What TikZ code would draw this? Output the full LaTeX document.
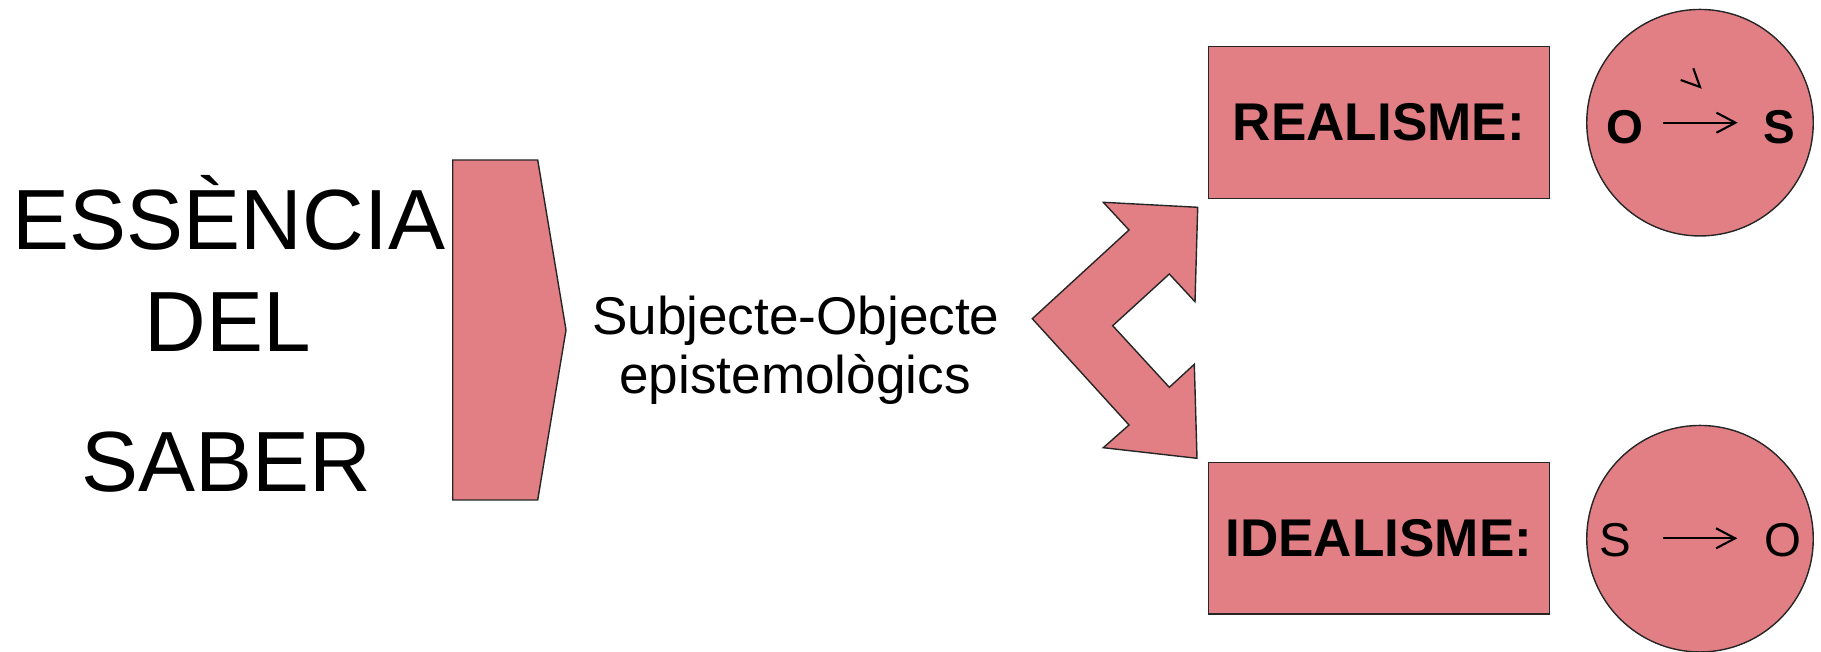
\documentclass[tikz,border=0pt]{standalone}
\usepackage{fontspec}
\setmainfont{Liberation Sans}
\usetikzlibrary{arrows.meta}
\definecolor{rosefill}{RGB}{226,127,133}
\begin{document}
\begin{tikzpicture}[x=0.01cm,y=-0.01cm,
  shapefill/.style={fill=rosefill,draw=black!85,line width=0.4pt},
  bigtxt/.style={inner sep=0,anchor=base,font=\fontsize{24.3}{29}\selectfont},
  midtxt/.style={inner sep=0,anchor=base,font=\fontsize{15.1}{18}\selectfont},
  boxlbl/.style={shapefill,rectangle,minimum width=3.41cm,minimum height=1.516cm,inner sep=0,font=\fontsize{15.1}{18}\selectfont\bfseries},
  circ/.style={shapefill,circle,minimum size=2.264cm,inner sep=0},
  ctxt/.style={inner sep=0,anchor=base,font=\fontsize{13.5}{16}\selectfont},
  relarrow/.style={line width=0.6pt,-{Straight Barb[length=5.4pt,width=5.7pt]}}
]
\useasboundingbox (0,0) rectangle (1821,652);

% left title
\node[bigtxt] (t1) at (229,249.3) {ESSÈNCIA};
\node[bigtxt] (t2) at (227.5,351.7) {DEL};
\node[bigtxt] (t3) at (226,491.7) {SABER};

% chevron
\draw[shapefill] (452.7,160) -- (537.7,160) -- (566,330) -- (537.7,500) -- (452.7,500) -- cycle;

% middle text
\node[midtxt] (m1) at (795.8,335) {Subjecte-Objecte};
\node[midtxt] (m2) at (795,393.3) {epistemològics};

% double arrow
\draw[shapefill] (1103.3,202.3) -- (1197.7,207.3) -- (1195,301.7) -- (1169.3,274)
  -- (1112.7,325.7) -- (1169.3,387.3) -- (1194.3,364.3) -- (1197,458.3)
  -- (1103.3,447.7) -- (1129,425) -- (1032.3,318.7) -- (1129,230) -- cycle;

% boxes
\node[boxlbl] (real) at (1378.8,122.5) {REALISME:};
\node[boxlbl] (ideal) at (1378.8,538.3) {IDEALISME:};

% circles
\node[circ] (c1) at (1700,122.7) {};
\node[circ] (c2) at (1700,538.7) {};

% top circle contents
\node[ctxt,font=\fontsize{13.5}{16}\selectfont\bfseries] (o1) at (1625,143.3) {O};
\node[ctxt,font=\fontsize{13.5}{16}\selectfont\bfseries] (s1) at (1779.2,143.3) {S};
\coordinate (a1s) at (1662.7,122.7);
\coordinate (a1e) at (1737.7,122.7);
\draw[relarrow] (a1s) -- (a1e);
\draw[line width=0.6pt] (1693.3,68.3) -- (1700,87) -- (1680.7,80);

% bottom circle contents
\node[ctxt] (s2) at (1615.8,556.7) {S};
\node[ctxt] (o2) at (1783,556.7) {O};
\coordinate (a2s) at (1662.7,538.3);
\coordinate (a2e) at (1737.3,538.3);
\draw[relarrow] (a2s) -- (a2e);
\end{tikzpicture}
\end{document}
